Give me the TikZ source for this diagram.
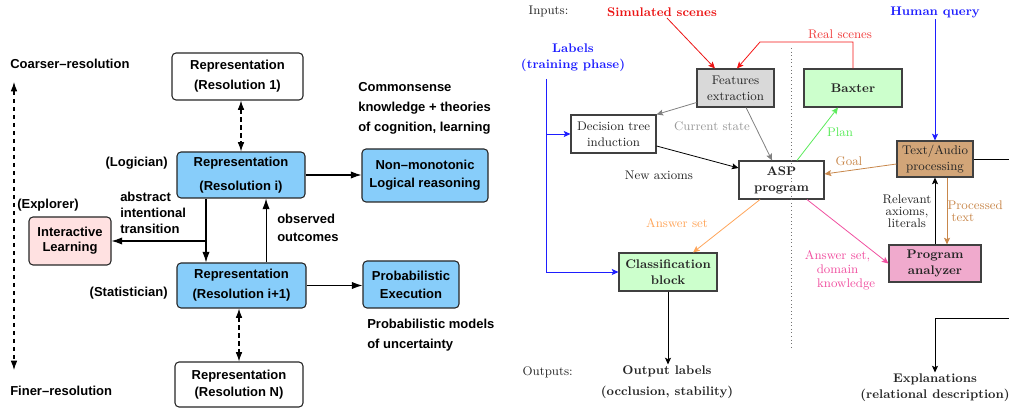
\documentclass[tikz,border=0pt]{standalone}
\usepackage{fontspec}
\newfontfamily\hv{Liberation Sans}
\usetikzlibrary{arrows.meta,calc}
\definecolor{lblue}{RGB}{135,205,250}
\definecolor{lpink}{RGB}{255,225,225}
\definecolor{lgreen}{RGB}{204,255,204}
\definecolor{fgray}{RGB}{217,217,217}
\definecolor{tanbox}{RGB}{210,165,120}
\definecolor{ppink}{RGB}{240,170,205}
\definecolor{simred}{RGB}{235,20,20}
\definecolor{realred}{RGB}{240,60,60}
\definecolor{realline}{RGB}{245,20,20}
\definecolor{qblue}{RGB}{30,30,255}
\definecolor{plangreen}{RGB}{90,235,90}
\definecolor{goaltan}{RGB}{200,135,75}
\definecolor{anspink}{RGB}{240,80,160}
\definecolor{ansorange}{RGB}{255,165,90}
\begin{document}
\begin{tikzpicture}[x=0.75pt,y=-0.75pt,
  lbox/.style={draw=black!85, line width=0.8pt, rounded corners=3pt, inner sep=0pt, align=center, font=\hv\bfseries\fontsize{9.75}{12}\selectfont},
  ltext/.style={inner sep=0pt, font=\hv\bfseries\fontsize{9.75}{12}\selectfont},
  larrow/.style={line width=0.8pt, -{Latex[length=8pt,width=5.5pt]}},
  ldash/.style={line width=0.8pt, dash pattern=on 3.5pt off 2.5pt, {Latex[length=7pt,width=5pt]}-{Latex[length=7pt,width=5pt]}},
  rbox/.style={draw=black!75, line width=0.8pt, inner sep=0pt, align=center, font=\fontsize{9.4}{12}\selectfont, text=black!85},
  rtext/.style={inner sep=1pt, align=center, font=\fontsize{9.4}{12}\selectfont, text=black!85},
  rbold/.style={font=\fontsize{9.4}{12}\selectfont\bfseries},
  rarrow/.style={line width=0.6pt, -{Stealth[length=5pt,width=4.5pt,inset=1pt]}}
]
\useasboundingbox (0,0) rectangle (1009,409);

% ---------------- left panel ----------------
\node[ltext, anchor=west] (coarse) at (10,64) {Coarser–resolution};
\node[ltext, anchor=west] (finer) at (10,391) {Finer–resolution};
\coordinate (axt) at (14,82);
\coordinate (axb) at (14,370);
\draw[ldash] (axt) -- (axb);

\node[lbox, fill=white, minimum width=98.25pt, minimum height=35.25pt] (b1) at (237.5,76.5) {Representation\\[3pt](Resolution 1)};
\node[lbox, fill=lblue, minimum width=96pt, minimum height=34.5pt] (bi) at (241,175) {Representation\\[6pt](Resolution i)};
\node[lbox, fill=lblue, minimum width=94.5pt, minimum height=39.75pt] (nm) at (425,175.5) {Non–monotonic\\[1.5pt]Logical reasoning};
\node[lbox, fill=lblue, minimum width=96.75pt, minimum height=33.75pt] (bi1) at (241.5,285.5) {Representation\\[3pt](Resolution i+1)};
\node[lbox, fill=lblue, minimum width=72pt, minimum height=35.25pt] (pe) at (411,284.5) {Probabilistic\\[1.5pt]Execution};
\node[lbox, fill=lpink, minimum width=61.5pt, minimum height=36pt] (il) at (70,241) {Interactive\\[-0.75pt]Learning};
\node[lbox, fill=white, minimum width=96pt, minimum height=33.75pt] (bn) at (239,384.5) {Representation\\[0.75pt](Resolution N)};

\node[ltext, anchor=east] (logi) at (168,163) {(Logician)};
\node[ltext, anchor=east] (stat) at (168,293) {(Statistician)};
\node[ltext, anchor=west] (expl) at (17,205) {(Explorer)};
\node[ltext, anchor=west, align=left] (abs) at (120,213) {abstract\\intentional\\transition};
\node[ltext, anchor=west, align=left] (obs) at (277,228) {observed\\[1.5pt]outcomes};
\node[ltext, anchor=west, align=left] (cs) at (358,108) {Commonsense\\[3pt]knowledge + theories\\[3pt]of cognition, learning};
\node[ltext, anchor=west, align=left] (pm) at (367,335) {Probabilistic models\\[3pt]of uncertainty};

\draw[ldash] (b1.south -| bi.north) -- (bi.north);
\draw[larrow] (bi.east) -- (bi.east -| nm.west);
\coordinate (d1) at ([xshift=-26.25pt]bi.south);
\draw[larrow] (d1) -- (d1 |- bi1.north);
\coordinate (brk) at (d1 |- il.east);
\draw[larrow] (brk) -- (il.east);
\coordinate (u1) at ([xshift=18.4pt]bi1.north);
\draw[larrow] (u1) -- (u1 |- bi.south);
\draw[larrow] (bi1.east) -- (bi1.east -| pe.west);
\draw[ldash] (bn.north |- bi1.south) -- (bn.north);

% ---------------- right panel ----------------
\node[rtext, anchor=west] (inp) at (527,11) {Inputs:};
\node[rtext, rbold, text=simred] (sim) at (662,12) {Simulated scenes};
\node[rtext, rbold, text=qblue] (lab) at (573,58) {Labels\\(training phase)};
\node[rtext, rbold, text=qblue] (hq) at (935,12) {Human query};
\node[rtext, text=realred] (rs) at (840,34) {Real scenes};

\node[rbox, fill=fgray, minimum width=57.75pt, minimum height=28.5pt] (fe) at (735.5,88) {Features\\extraction};
\node[rbox, fill=white, minimum width=63.75pt, minimum height=28.5pt] (dt) at (613.5,134) {Decision tree\\induction};
\node[rbox, rbold, fill=lgreen, minimum width=73.5pt, minimum height=28.5pt] (bx) at (853,88) {Baxter};
\node[rbox, rbold, fill=white, minimum width=63.75pt, minimum height=28.5pt] (asp) at (781.5,180) {ASP\\program};
\node[rbox, fill=tanbox, minimum width=57pt, minimum height=27pt] (ta) at (935,159) {Text/Audio\\processing};
\node[rbox, rbold, fill=ppink, minimum width=69pt, minimum height=27.75pt] (pa) at (935,263.5) {Program\\analyzer};
\node[rbox, rbold, fill=lgreen, minimum width=73.5pt, minimum height=28.5pt] (cb) at (668,272) {Classification\\block};

\node[rtext, text=black!40] (cst) at (712,126) {Current state};
\node[rtext] (na) at (659,175) {New axioms};
\node[rtext, text=plangreen] (plan) at (840,132) {Plan};
\node[rtext, text=goaltan] (goal) at (849,161) {Goal};
\node[rtext] (rel) at (907,211) {Relevant\\[-3pt]axioms,\\[-3pt]literals};
\node[rtext, text=goaltan, align=left, anchor=west] (proc) at (946,211) {Processed\\[-3pt]\hspace*{3pt}text};
\node[rtext, text=anspink] (ans2) at (837.5,270) {Answer set,\\[-1.5pt]domain\\[-1.5pt]\hspace*{13pt}knowledge};
\node[rtext, text=ansorange] (ans1) at (677,223) {Answer set};
\node[rtext, anchor=west] (outp) at (521,372) {Outputs:};
\node[rtext, rbold] (out) at (667,382.5) {Output labels\\[3.75pt](occlusion, stability)};
\node[rtext, rbold] (exp) at (935,388) {Explanations\\(relational description)};

\draw[rarrow, simred] ([xshift=3.75pt]sim.south) -- ([xshift=-15.4pt]fe.north);
\coordinate (rsc) at (760,42);
\draw[rarrow, realline] (bx.north) |- (rsc) -- ([xshift=1.1pt]fe.north);
\coordinate (dtop) at (791,48);
\coordinate (dbot) at (791,348);
\draw[dotted, black!55, line width=0.7pt] (dtop) -- (dbot);

\draw[rarrow, black!50] ([xshift=7.9pt]fe.south) -- ([xshift=-7.1pt]asp.north);
\draw[rarrow, black!50] ([yshift=3.75pt]fe.south west) -- (dt.north east);
\draw[rarrow, black] ([yshift=-9pt]dt.east) -- ([yshift=9pt]asp.west);
\draw[rarrow, plangreen] ([xshift=11.6pt]asp.north) -- ([xshift=-11.25pt]bx.south);
\draw[rarrow, qblue] (hq.south) -- (ta.north);
\draw[rarrow, goaltan] ([yshift=-3.75pt]ta.west) -- ([yshift=4.5pt]asp.east);
\draw[rarrow, black] (pa.north) -- (ta.south);
\draw[rarrow, goaltan] ([xshift=9pt]ta.south) -- ([xshift=9pt]pa.north);
\draw[rarrow, anspink] ([xshift=19.1pt]asp.south) -- (pa.west);
\draw[rarrow, ansorange] ([xshift=-16.1pt]asp.south) -- ([xshift=18.75pt]cb.north);
\coordinate (lt) at (546,79);
\draw[rarrow, qblue] (lt) |- (cb.west);
\draw[rarrow, qblue] (lt |- dt.west) -- (dt.west);
\draw[rarrow, black] (cb.south) -- (cb.south |- out.north);
\coordinate (re1) at (1009,158);
\draw[line width=0.6pt, black] (ta.east) -- (ta.east -| re1);
\coordinate (re2) at (1009,318);
\draw[rarrow, black] (re2) -| (exp.north);
\end{tikzpicture}
\end{document}
